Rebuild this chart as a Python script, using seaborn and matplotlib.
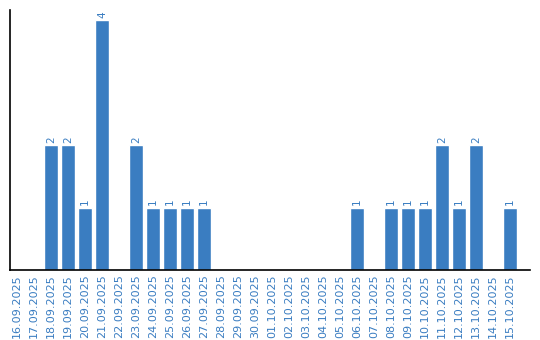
import matplotlib
matplotlib.use("Agg")
import matplotlib.pyplot as plt
import seaborn as sns
import pandas as pd

dates = ["16.09.2025", "17.09.2025", "18.09.2025", "19.09.2025", "20.09.2025",
         "21.09.2025", "22.09.2025", "23.09.2025", "24.09.2025", "25.09.2025",
         "26.09.2025", "27.09.2025", "28.09.2025", "29.09.2025", "30.09.2025",
         "01.10.2025", "02.10.2025", "03.10.2025", "04.10.2025", "05.10.2025",
         "06.10.2025", "07.10.2025", "08.10.2025", "09.10.2025", "10.10.2025",
         "11.10.2025", "12.10.2025", "13.10.2025", "14.10.2025", "15.10.2025"]
counts = [0, 0, 2, 2, 1, 4, 0, 2, 1, 1, 1, 1, 0, 0, 0,
          0, 0, 0, 0, 0, 1, 0, 1, 1, 1, 2, 1, 2, 0, 1]

df = pd.DataFrame({"date": dates, "count": counts})

sns.set_style("white")
plt.rcParams['font.family'] = ['DejaVu Sans']

BLUE = "#3a7dc1"
fig = plt.figure(figsize=(5.4, 3.4), dpi=100)
ax = fig.add_axes([10/540, 70/340, 520/540, 260/340])

sns.barplot(data=df, x="date", y="count", color=BLUE, width=0.824,
            saturation=1, ax=ax)

ax.set_xlim(-0.412, 30.18)
ax.set_ylim(0, 4.16)
ax.set_xlabel("")
ax.set_ylabel("")
ax.set_yticks([])
ax.tick_params(axis="x", labelrotation=90, labelsize=8, colors=BLUE,
               length=0, pad=3)
for lbl in ax.get_xticklabels():
    lbl.set_color(BLUE)

for s in ["top", "right"]:
    ax.spines[s].set_visible(False)
for s in ["left", "bottom"]:
    ax.spines[s].set_visible(True)
    ax.spines[s].set_color("black")
    ax.spines[s].set_linewidth(1.2)

for i, v in enumerate(counts):
    if v > 0:
        ax.text(i, v + 0.04, str(v), rotation=90, ha="center", va="bottom",
                fontsize=7.5, color=BLUE)

fig.savefig("out.png", dpi=100)
